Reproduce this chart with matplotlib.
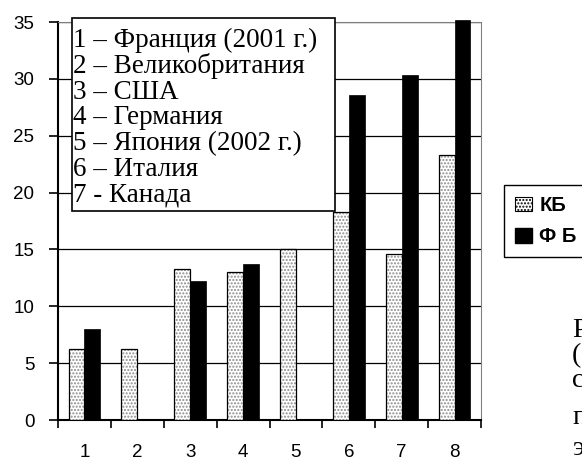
import numpy as np
import matplotlib.pyplot as plt
from matplotlib.patches import Patch

# bank shares by country, %
categories = ['1', '2', '3', '4', '5', '6', '7', '8']
kb = [6.2, 6.2, 13.25, 13.05, 15.0, 18.3, 14.6, 23.3]
fb = [8.0, np.nan, 12.2, 13.7, np.nan, 28.6, 30.3, 35.2]

countries = ['1 – Франция (2001 г.)', '2 – Великобритания', '3 – США',
             '4 – Германия', '5 – Япония (2002 г.)', '6 – Италия', '7 - Канада']
side_text = ['Р', '(', 'с', 'п', 'э']
side_rows = [337, 362, 387, 424, 455]

W, H = 582, 461
fig = plt.figure(figsize=(W / 100, H / 100), dpi=100)
ax = fig.add_axes([58 / W, 1 - 420 / H, 423 / W, 398 / H])

x = np.arange(len(categories))
bw = 0.3
dots = '#8c8c8c'

# dotted fill, then a black outline on top
ax.bar(x - bw / 2, kb, bw, color='white', edgecolor=dots, hatch='.....',
       linewidth=0, zorder=3)
ax.bar(x - bw / 2, kb, bw, fill=False, edgecolor='black', linewidth=0.9, zorder=4)
ax.bar(x + bw / 2, fb, bw, color='black', edgecolor='black', linewidth=0.5,
       zorder=4, clip_on=False)

ax.set_xlim(-0.5, len(categories) - 0.5)
ax.set_ylim(0, 35)
ax.set_yticks(range(0, 36, 5))
ax.yaxis.grid(True, color='black', linewidth=0.9)
ax.set_axisbelow(True)

ax.set_xticks(np.arange(-0.5, len(categories), 1.0))
ax.set_xticklabels([])
ax.set_xticks(x, minor=True)
ax.set_xticklabels(categories, minor=True)
ax.tick_params(axis='x', which='major', direction='out', length=5.5, width=1.2)
ax.tick_params(axis='x', which='minor', length=0, pad=17, labelsize=13.5)
ax.tick_params(axis='y', direction='out', length=6.5, width=1.2, pad=10.5, labelsize=13.5)
for lab in ax.get_xticklabels(minor=True) + ax.get_yticklabels():
    lab.set_family('Liberation Sans')

ax.spines['left'].set_linewidth(1.5)
ax.spines['bottom'].set_linewidth(1.5)
ax.spines['top'].set_color('#808080')
ax.spines['right'].set_color('#808080')

# country list box over the upper-left part of the plot
box = plt.Rectangle((72 / W, 1 - 211 / H), 263 / W, 193 / H, transform=fig.transFigure,
                    facecolor='white', edgecolor='black', linewidth=1.2, zorder=5)
fig.patches.append(box)
for i, s in enumerate(countries):
    fig.text(73 / W, 1 - (47 + i * 25.8) / H, s, family='Liberation Serif',
             fontsize=19.5, va='baseline', ha='left', zorder=6)

handles = [Patch(facecolor='white', edgecolor='black', hatch='.....', linewidth=0.8),
           Patch(facecolor='black', edgecolor='black')]
leg = fig.legend(handles, ['КБ', 'Ф Б'], loc='upper left',
                 bbox_to_anchor=(504 / W, 1 - 185 / H), frameon=True, fancybox=False,
                 edgecolor='black', framealpha=1, handlelength=0.85, handleheight=0.75,
                 handletextpad=0.35, borderpad=0.55, labelspacing=0.6,
                 borderaxespad=0, prop={'family': 'Liberation Sans', 'weight': 'bold',
                                        'size': 14.5})
leg.get_frame().set_linewidth(1.0)

# start of the neighbouring column text
for s, row in zip(side_text, side_rows):
    fig.text(572 / W, 1 - row / H, s, family='Liberation Serif',
             fontsize=20, va='baseline', ha='left')

fig.savefig('out.png', dpi=100)
